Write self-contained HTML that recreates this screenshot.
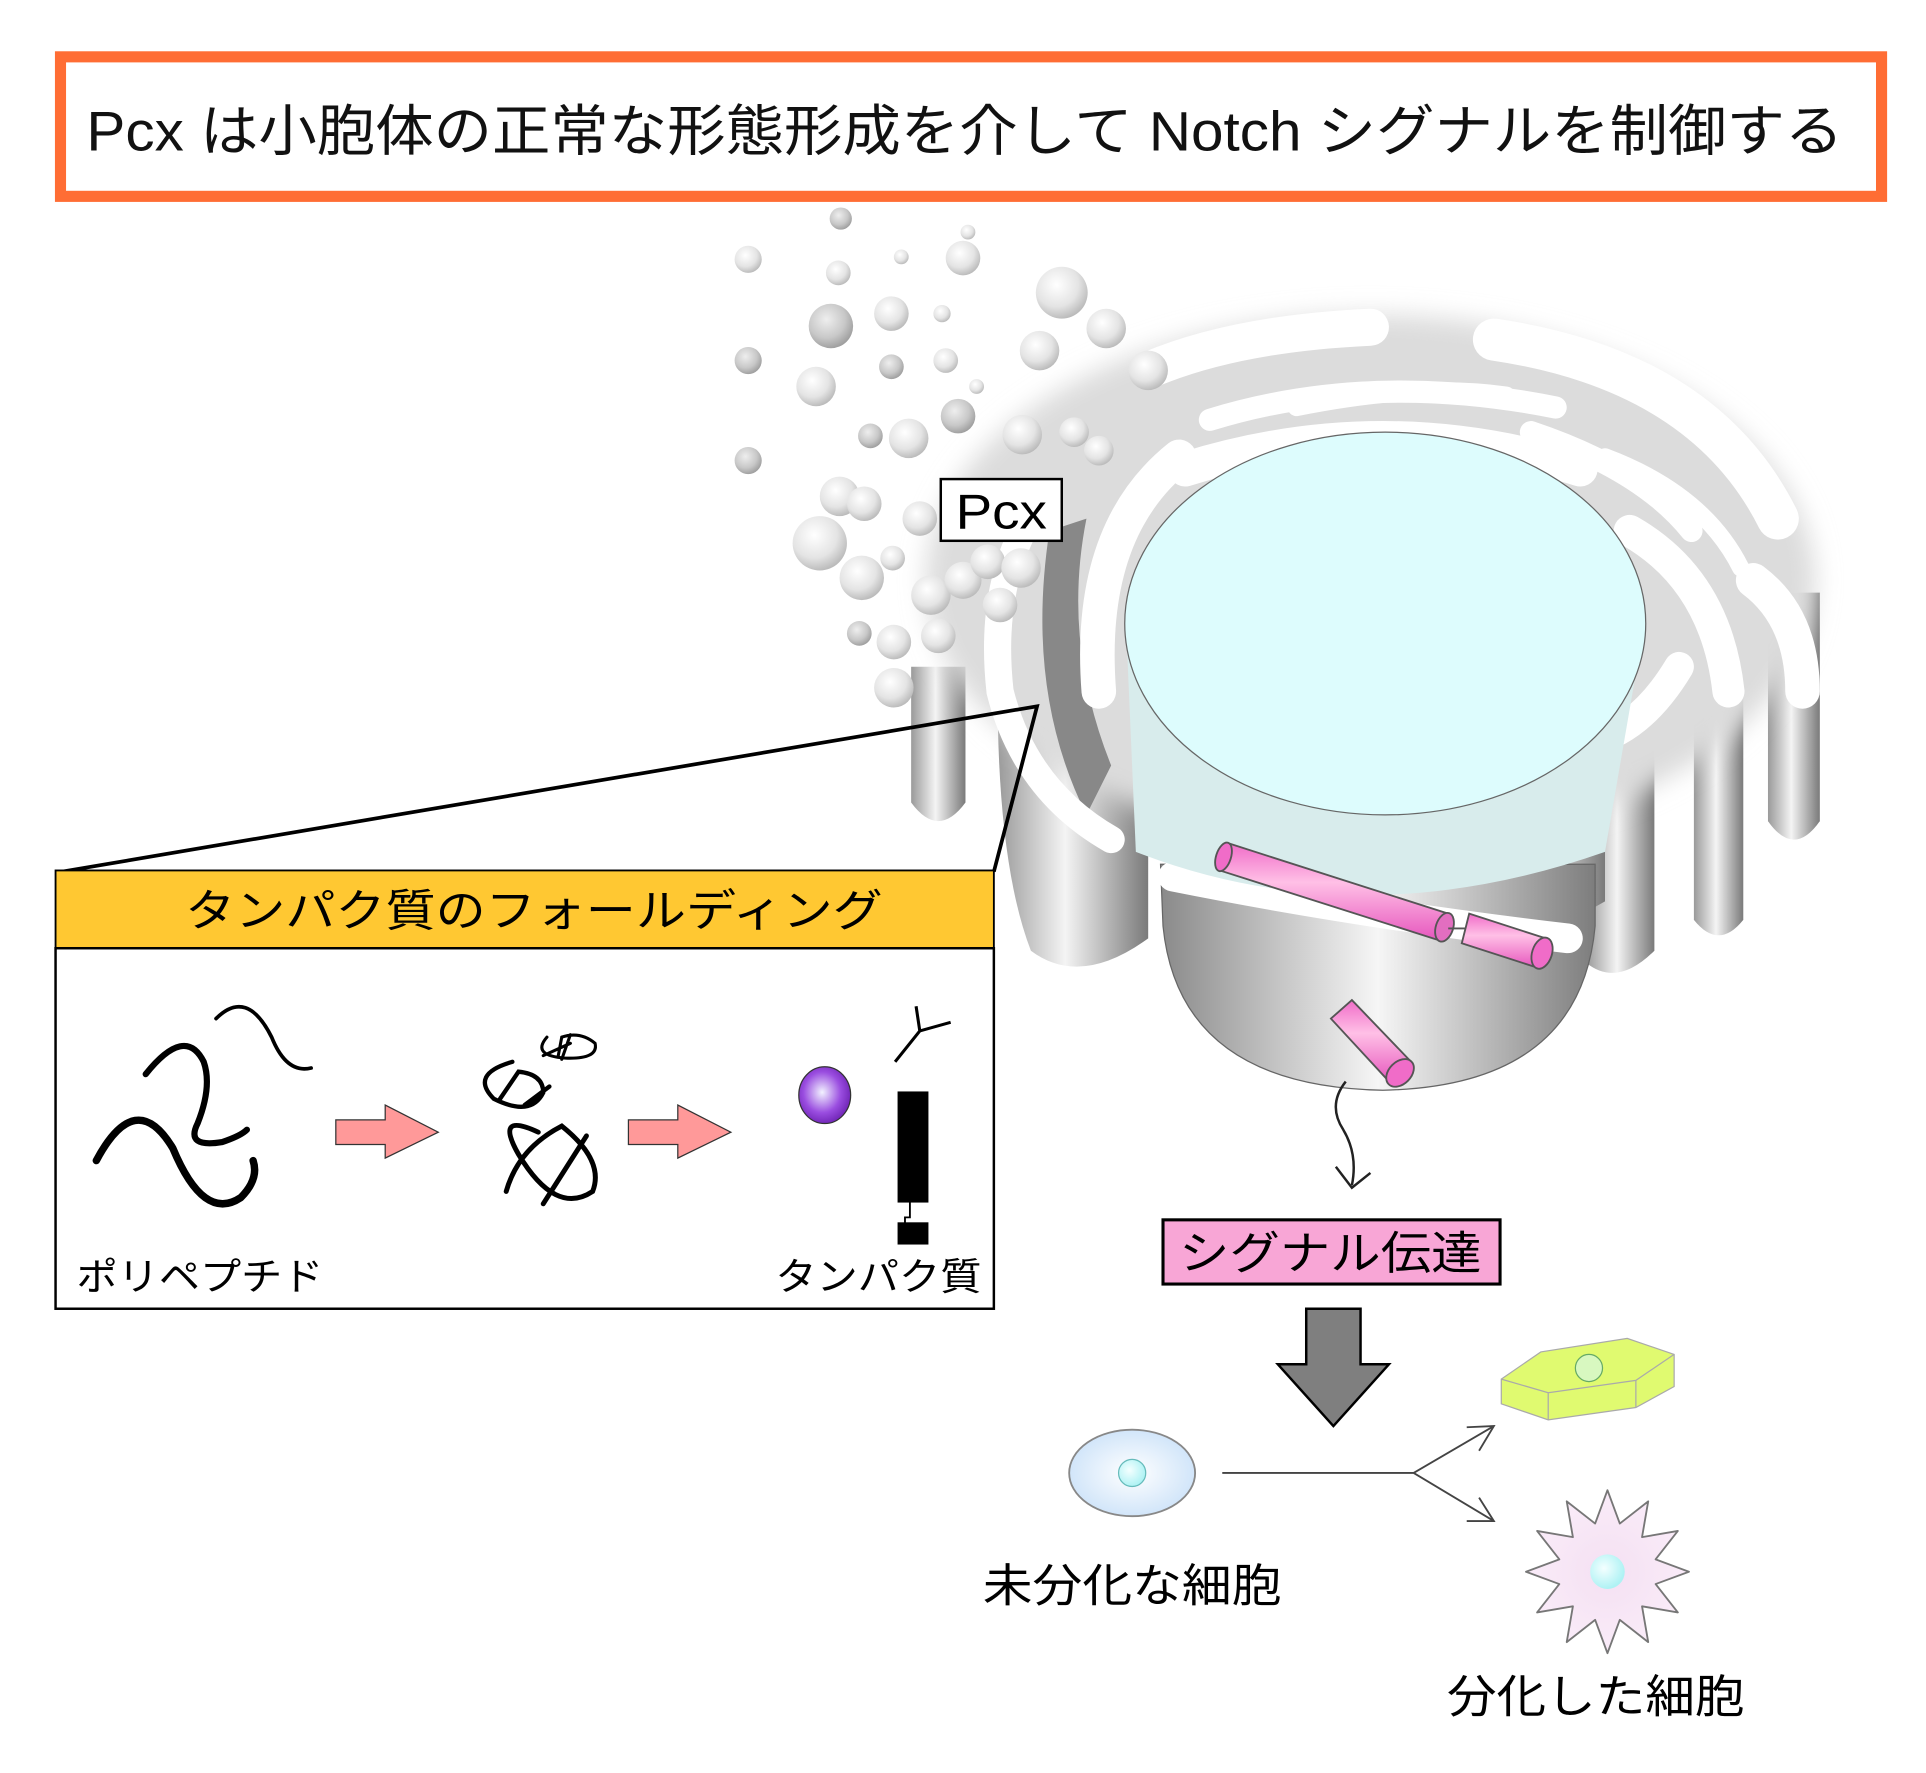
<!DOCTYPE html>
<html><head><meta charset="utf-8"><style>
html,body{margin:0;padding:0;background:#fff;}
svg{display:block;}
text{font-family:"Liberation Sans","Noto Sans CJK JP",sans-serif;}
</style></head><body>
<svg width="1926" height="1773" viewBox="0 0 1560 1436" xmlns="http://www.w3.org/2000/svg">
<defs>
<radialGradient id="bub" cx="0.4" cy="0.35" r="0.7"><stop offset="0" stop-color="#fff"/><stop offset="0.6" stop-color="#e4e4e4"/><stop offset="1" stop-color="#b5b5b5"/></radialGradient>
<radialGradient id="bubd" cx="0.4" cy="0.35" r="0.7"><stop offset="0" stop-color="#eee"/><stop offset="0.6" stop-color="#c8c8c8"/><stop offset="1" stop-color="#999"/></radialGradient>
<linearGradient id="pil" x1="0" x2="1"><stop offset="0" stop-color="#9a9a9a"/><stop offset="0.45" stop-color="#f4f4f4"/><stop offset="1" stop-color="#7a7a7a"/></linearGradient>
<linearGradient id="cup" x1="0" x2="1"><stop offset="0" stop-color="#8a8a8a"/><stop offset="0.5" stop-color="#f6f6f6"/><stop offset="1" stop-color="#7d7d7d"/></linearGradient>
<linearGradient id="pink" x1="0" y1="0" x2="0" y2="1"><stop offset="0" stop-color="#f06cc8"/><stop offset="0.4" stop-color="#ffc0e6"/><stop offset="1" stop-color="#e655bd"/></linearGradient>
<radialGradient id="purp" cx="0.45" cy="0.45" r="0.6"><stop offset="0" stop-color="#f2f2ff"/><stop offset="0.6" stop-color="#9a4de0"/><stop offset="1" stop-color="#6a1fb0"/></radialGradient>
<radialGradient id="cell" cx="0.5" cy="0.5" r="0.6"><stop offset="0" stop-color="#fff"/><stop offset="1" stop-color="#c8e0f8"/></radialGradient>
<radialGradient id="star" cx="0.5" cy="0.5" r="0.6"><stop offset="0" stop-color="#f4e0f2"/><stop offset="1" stop-color="#fbeefa"/></radialGradient>
<radialGradient id="nuc" cx="0.4" cy="0.4" r="0.6"><stop offset="0" stop-color="#f4ffff"/><stop offset="1" stop-color="#aef2f4"/></radialGradient>
<filter id="blur"><feGaussianBlur stdDeviation="10"/></filter>
</defs>

<rect x="49" y="46" width="1475" height="113" fill="#fff" stroke="#ff6d34" stroke-width="9"/>
<text x="70" y="122" font-size="45" fill="#111" textLength="1423" lengthAdjust="spacingAndGlyphs">Pcx は小胞体の正常な形態形成を介して Notch シグナルを制御する</text>

<path d="M738 540 L782 540 L782 650 Q760 680 738 650 Z" fill="url(#pil)"/>
<path d="M808 560 L930 560 L930 760 Q875 800 835 770 Q808 700 808 560 Z" fill="url(#pil)"/>
<path d="M1285 560 L1340 560 L1340 770 Q1310 800 1285 780 Z" fill="url(#pil)"/>
<path d="M1372 520 L1412 520 L1412 745 Q1392 770 1372 745 Z" fill="url(#pil)"/>
<path d="M1432 480 L1474 480 L1474 665 Q1453 695 1432 665 Z" fill="url(#pil)"/>
<path d="M1200 600 L1300 600 L1300 730 Q1250 760 1200 740 Z" fill="url(#pil)"/>
<path d="M940 700 L1292 700 L1292 750 Q1280 880 1120 883 Q955 880 942 750 Z" fill="url(#cup)" stroke="#666" stroke-width="1"/>
<ellipse cx="1110" cy="470" rx="360" ry="215" fill="#dcdcdc" filter="url(#blur)"/>
<path d="M880 420 Q860 520 900 620 L880 660 Q830 560 850 430 Z" fill="#888"/>
<g fill="none" stroke="#fff" stroke-linecap="round">
<path d="M930 300 Q1000 270 1110 265" stroke-width="30"/>
<path d="M1210 275 Q1380 300 1440 420" stroke-width="34"/>
<path d="M980 340 Q1110 300 1260 330" stroke-width="18"/>
<path d="M1050 330 Q1150 310 1220 320" stroke-width="14"/>
<path d="M1240 350 Q1330 380 1370 430" stroke-width="18"/>
<path d="M1300 370 Q1380 400 1410 460" stroke-width="14"/>
<path d="M1320 430 Q1390 470 1400 560" stroke-width="26"/>
<path d="M1420 470 Q1460 500 1460 560" stroke-width="28"/>
<path d="M1360 540 Q1330 590 1290 600" stroke-width="24"/>
<path d="M955 370 Q880 430 890 560" stroke-width="28"/>
<path d="M960 380 Q1120 330 1280 380" stroke-width="28"/>
<path d="M840 410 Q800 470 810 560 Q830 640 900 680" stroke-width="22"/>
<path d="M990 665 Q1040 690 1080 700" stroke-width="20"/>
<path d="M950 710 Q1100 740 1270 760" stroke-width="24"/>
<path d="M1190 690 Q1240 690 1280 665" stroke-width="18"/>
</g>
<path d="M912 505 L920 690 Q1100 760 1300 690 L1332 505 Z" fill="#d8ecec"/>
<ellipse cx="1122" cy="505" rx="211" ry="155" fill="#ddfcfd" stroke="#666" stroke-width="1"/>
<g stroke="#555" stroke-width="1.5">
<path d="M995 683 L1173 740 L1167 762 L988 705 Z" fill="url(#pink)"/>
<ellipse cx="991" cy="694" rx="6" ry="12" transform="rotate(18 991 694)" fill="#f06cc8"/>
<ellipse cx="1170" cy="751" rx="7" ry="12" transform="rotate(18 1170 751)" fill="#e26ec0"/>
<path d="M1190 740 L1252 760 L1246 784 L1184 764 Z" fill="url(#pink)"/>
<ellipse cx="1249" cy="772" rx="8" ry="13" transform="rotate(18 1249 772)" fill="#f06cc8"/>
<line x1="1173" y1="752" x2="1187" y2="752"/>
<path d="M1078 825 L1095 810 L1143 860 L1126 877 Z" fill="url(#pink)"/>
<ellipse cx="1134" cy="869" rx="13" ry="9" transform="rotate(-45 1134 869)" fill="#f06cc8"/>
</g>
<path d="M1090 876 Q1075 895 1088 915 Q1100 935 1095 960" fill="none" stroke="#222" stroke-width="2"/>
<path d="M1082 945 L1095 962 L1110 950" fill="none" stroke="#222" stroke-width="2"/>

<g fill="url(#bub)">
<circle cx="681" cy="177" r="9" fill="url(#bubd)"/><circle cx="784" cy="188" r="6"/><circle cx="606" cy="210" r="11"/><circle cx="679" cy="221" r="10"/><circle cx="730" cy="208" r="6"/><circle cx="780" cy="209" r="14"/><circle cx="860" cy="237" r="21"/><circle cx="673" cy="264" r="18" fill="url(#bubd)"/><circle cx="722" cy="254" r="14"/><circle cx="763" cy="254" r="7"/><circle cx="896" cy="266" r="16"/><circle cx="606" cy="292" r="11" fill="url(#bubd)"/><circle cx="722" cy="297" r="10" fill="url(#bubd)"/><circle cx="766" cy="292" r="10"/><circle cx="842" cy="284" r="16"/><circle cx="661" cy="313" r="16"/><circle cx="791" cy="313" r="6"/><circle cx="930" cy="300" r="16"/><circle cx="776" cy="337" r="14" fill="url(#bubd)"/><circle cx="705" cy="353" r="10" fill="url(#bubd)"/><circle cx="736" cy="355" r="16"/><circle cx="828" cy="352" r="16"/><circle cx="870" cy="350" r="12"/><circle cx="890" cy="365" r="12"/><circle cx="606" cy="373" r="11" fill="url(#bubd)"/><circle cx="680" cy="402" r="16"/><circle cx="700" cy="408" r="14"/><circle cx="664" cy="440" r="22"/><circle cx="723" cy="452" r="10"/><circle cx="698" cy="468" r="18"/><circle cx="754" cy="482" r="16"/><circle cx="780" cy="470" r="15"/><circle cx="800" cy="455" r="14"/><circle cx="696" cy="513" r="10" fill="url(#bubd)"/><circle cx="724" cy="520" r="14"/><circle cx="760" cy="515" r="14"/><circle cx="724" cy="557" r="16"/><circle cx="827" cy="460" r="16"/><circle cx="810" cy="490" r="14"/><circle cx="745" cy="420" r="14"/>
</g>
<rect x="762" y="388" width="98" height="50" fill="#fff" stroke="#000" stroke-width="2"/>
<text x="811" y="428" font-size="40" text-anchor="middle" textLength="74" lengthAdjust="spacingAndGlyphs">Pcx</text>

<path d="M50 706 L840 572 L805 706" fill="none" stroke="#000" stroke-width="3"/>

<rect x="45" y="705" width="760" height="63" fill="#ffc832" stroke="#000" stroke-width="1.5"/>
<text x="150" y="750" font-size="36" textLength="565" lengthAdjust="spacingAndGlyphs">タンパク質のフォールディング</text>
<rect x="45" y="768" width="760" height="292" fill="#fff" stroke="#000" stroke-width="2"/>
<g fill="none" stroke="#000" stroke-linecap="round">
<path d="M78 940 Q110 880 140 930 Q165 990 195 970 Q210 955 205 940" stroke-width="6"/>
<path d="M118 870 Q150 830 165 860 Q172 880 160 910 Q150 930 180 925 Q195 920 200 915" stroke-width="5"/>
<path d="M175 825 Q200 800 220 840 Q232 870 252 865" stroke-width="3"/>
<path d="M436 917 Q400 900 420 935 Q450 985 480 965 Q490 940 455 912 Q420 930 410 965 M475 920 L440 975" stroke-width="4"/>
<path d="M415 860 Q380 870 400 890 Q430 905 440 885 Q440 870 420 868 L405 890 M445 880 L425 895" stroke-width="3.5"/>
<path d="M443 840 Q430 855 458 857 Q485 858 482 845 Q470 835 455 840 L452 856 M462 838 L455 858 M440 855 L462 845" stroke-width="2.5"/>
</g>
<path d="M272 907 L312 907 L312 895 L355 917 L312 938 L312 927 L272 927 Z" fill="#ff9999" stroke="#333" stroke-width="1"/>
<path d="M509 907 L549 907 L549 895 L592 917 L549 938 L549 927 L509 927 Z" fill="#ff9999" stroke="#333" stroke-width="1"/>
<ellipse cx="668" cy="887" rx="21" ry="23" fill="url(#purp)" stroke="#333" stroke-width="1"/>
<path d="M725 860 L745 835 L742 815 M745 835 L770 828" fill="none" stroke="#000" stroke-width="2.5"/>
<rect x="727" y="884" width="25" height="90" fill="#000"/>
<path d="M737 974 L737 986 L733 986 L733 992" fill="none" stroke="#000" stroke-width="1.5"/>
<rect x="727" y="990" width="25" height="18" fill="#000"/>
<text x="62" y="1045" font-size="31" textLength="200" lengthAdjust="spacingAndGlyphs">ポリペプチド</text>
<text x="628" y="1045" font-size="31" textLength="167" lengthAdjust="spacingAndGlyphs">タンパク質</text>

<rect x="942" y="988" width="273" height="52" fill="#f8a6d6" stroke="#000" stroke-width="2.5"/>
<text x="955" y="1028" font-size="37" textLength="245" lengthAdjust="spacingAndGlyphs">シグナル伝達</text>
<path d="M1058 1060 L1102 1060 L1102 1105 L1125 1105 L1080 1155 L1035 1105 L1058 1105 Z" fill="#7f7f7f" stroke="#000" stroke-width="2"/>

<ellipse cx="917" cy="1193" rx="51" ry="35" fill="url(#cell)" stroke="#888" stroke-width="1.5"/>
<circle cx="917" cy="1193" r="11" fill="url(#nuc)" stroke="#6bb" stroke-width="1"/>
<path d="M990 1193 L1145 1193 L1210 1155 M1145 1193 L1210 1232" fill="none" stroke="#444" stroke-width="1.5"/>
<path d="M1188 1156 L1210 1155 L1198 1175 M1188 1232 L1210 1232 L1198 1213" fill="none" stroke="#444" stroke-width="1.5"/>
<text x="796" y="1297" font-size="37" textLength="242" lengthAdjust="spacingAndGlyphs">未分化な細胞</text>
<g stroke="#aaa" stroke-width="1">
<path d="M1216 1117 L1248 1095 L1318 1084 L1356 1097 L1356 1123 L1325 1140 L1254 1150 L1216 1137 Z" fill="#e0fa70"/>
<path d="M1216 1117 L1254 1128 L1325 1118 L1356 1097 M1254 1128 L1254 1150 M1325 1118 L1325 1140" fill="none"/>
<circle cx="1287" cy="1108" r="11" fill="#d8f8c0" stroke="#6a6"/>
</g>
<polygon points="1368,1273 1341,1283 1359,1306 1330,1301 1335,1330 1312,1312 1302,1339 1292,1312 1269,1330 1274,1301 1245,1306 1263,1283 1236,1273 1263,1263 1245,1240 1274,1245 1269,1216 1292,1234 1302,1207 1312,1234 1335,1216 1330,1245 1359,1240 1341,1263" fill="url(#star)" stroke="#777" stroke-width="1.5" stroke-linejoin="round"/>
<circle cx="1302" cy="1273" r="14" fill="url(#nuc)"/>
<text x="1172" y="1387" font-size="37" textLength="241" lengthAdjust="spacingAndGlyphs">分化した細胞</text>
</svg>
</body></html>
